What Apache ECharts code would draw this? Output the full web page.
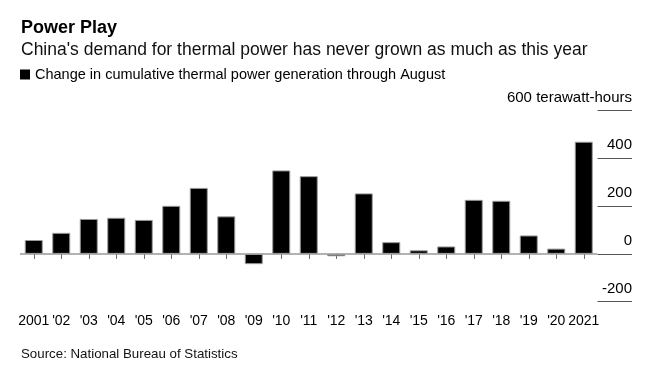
<!DOCTYPE html>
<html>
<head>
<meta charset="utf-8">
<script src="https://cdn.jsdelivr.net/npm/echarts@6/dist/echarts.min.js"></script>
<style>
html,body{margin:0;padding:0;background:#fff;}
#chart{width:660px;height:368px;}
</style>
</head>
<body>
<div id="chart"></div>
<script>
var years = ['2001',"'02","'03","'04","'05","'06","'07","'08","'09","'10","'11","'12","'13","'14","'15","'16","'17","'18","'19","'20",'2021'];
var changeTWh = [58, 88, 146, 151, 142, 201, 276, 157, -43, 349, 325, -10, 253, 49, 15, 31, 226, 222, 77, 22, 469];
var yTicks = [-200, 0, 200, 400, 600];
var unitLabel = '600 terawatt-hours';
var seriesName = 'Change in cumulative thermal power generation through August';

var FONT = '"Liberation Sans", Arial, Helvetica, sans-serif';
var chart = echarts.init(document.getElementById('chart'), null, {renderer: 'canvas'});
chart.setOption({
  animation: false,
  backgroundColor: '#fff',
  textStyle: {fontFamily: FONT},
  title: [
    {text: 'Power Play', left: 16, top: 13, textStyle: {fontFamily: FONT, fontSize: 18, fontWeight: 'bold', color: '#000', lineHeight: 20}},
    {text: "China's demand for thermal power has never grown as much as this year", left: 16, top: 35, textStyle: {fontFamily: FONT, fontSize: 17.5, fontWeight: 'normal', color: '#111', lineHeight: 20}},
    {text: 'Source: National Bureau of Statistics', left: 16, top: 341, textStyle: {fontFamily: FONT, fontSize: 13.3, fontWeight: 'normal', color: '#111', lineHeight: 16}}
  ],
  legend: {
    left: 15, top: 62, icon: 'rect', itemWidth: 10, itemHeight: 10, itemGap: 6,
    itemStyle: {borderWidth: 0, color: '#000'},
    textStyle: {fontFamily: FONT, fontSize: 14.5, color: '#000'},
    data: [seriesName]
  },
  grid: {left: 20, right: 62.5, top: 110.4, bottom: 66.3, containLabel: false},
  xAxis: {
    type: 'category', data: years,
    axisLine: {show: false},
    axisTick: {show: true, alignWithLabel: true, length: 5, lineStyle: {color: '#666', width: 1}},
    axisLabel: {interval: 0, margin: 12, fontFamily: FONT, fontSize: 14, color: '#000'}
  },
  yAxis: {
    type: 'value', position: 'right', min: -200, max: 600, interval: 200,
    axisLine: {show: false},
    splitLine: {show: false},
    axisTick: {show: true, length: 34.5, lineStyle: {color: '#555', width: 1}},
    axisLabel: {
      show: true, margin: 34.5, align: 'right', verticalAlign: 'bottom', lineHeight: 26,
      fontFamily: FONT, fontSize: 15, color: '#000',
      formatter: function (v) { return v === 600 ? unitLabel : String(v); }
    }
  },
  series: [{
    name: seriesName, type: 'bar', data: changeTWh, barWidth: 18,
    itemStyle: {color: '#000', borderColor: '#999', borderWidth: 1},
    markLine: {
      silent: true, symbol: 'none', label: {show: false},
      lineStyle: {color: '#999', width: 1.5, type: 'solid'},
      data: [{yAxis: 0}]
    }
  }]
});
</script>
</body>
</html>
